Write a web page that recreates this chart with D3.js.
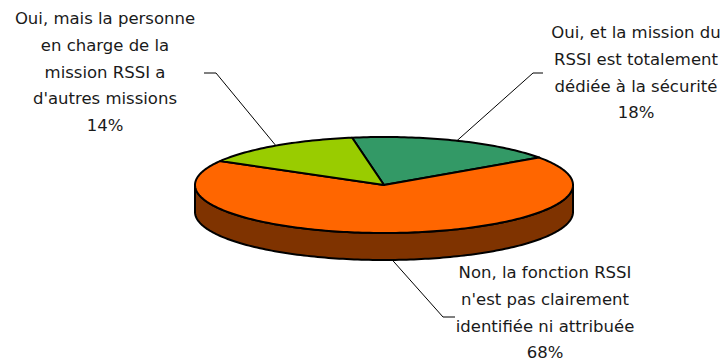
<!DOCTYPE html>
<html>
<head>
<meta charset="utf-8">
<script src="https://cdn.jsdelivr.net/npm/d3@7"></script>
<style>
  html, body { margin: 0; padding: 0; background: #fff; }
  svg { display: block; }
</style>
</head>
<body>
<script>
// data
var categories = [
  "Oui, et la mission du RSSI est totalement dédiée à la sécurité",
  "Non, la fonction RSSI n'est pas clairement identifiée ni attribuée",
  "Oui, mais la personne en charge de la mission RSSI a d'autres missions"
];
var values = [18, 68, 14];
var labelLines = [
  ["Oui, et la mission du", "RSSI est totalement", "dédiée à la sécurité", "18%"],
  ["Non, la fonction RSSI", "n'est pas clairement", "identifiée ni attribuée", "68%"],
  ["Oui, mais la personne", "en charge de la", "mission RSSI a", "d'autres missions", "14%"]
];
var topColors = ["#339966", "#FF6600", "#99CC00"];
var sideColors = ["#1f5c3d", "#7F3300", "#5c7a00"];

(function(){
  var width = 728, height = 363;
  var cx = 384, cy = 185, rx = 189, ry = 48, depth = 27;

  var svg = d3.select("body").append("svg")
      .attr("width", width)
      .attr("height", height);

  var pie = d3.pie().sort(null)
      .startAngle(-9.7 * Math.PI / 180)
      .endAngle(-9.7 * Math.PI / 180 + 2 * Math.PI);
  var arcs = pie(values);

  var topColor = d3.scaleOrdinal().domain(categories).range(topColors);
  var sideColor = d3.scaleOrdinal().domain(categories).range(sideColors);

  function px(a){ return cx + rx * Math.sin(a); }
  function py(a, dz){ return cy - ry * Math.cos(a) + (dz || 0); }

  function rim(p, a0, a1, dz){
    var n = Math.max(2, Math.ceil(Math.abs(a1 - a0) / 0.02));
    for (var i = 0; i <= n; i++){
      var a = a0 + (a1 - a0) * i / n;
      p.lineTo(px(a), py(a, dz));
    }
  }

  // side walls (front half: angles PI/2 .. 3PI/2, modulo 2PI)
  arcs.forEach(function(d, i){
    var ranges = [];
    [0, 2 * Math.PI, -2 * Math.PI].forEach(function(off){
      var a0 = Math.max(d.startAngle, Math.PI / 2 + off);
      var a1 = Math.min(d.endAngle, 3 * Math.PI / 2 + off);
      if (a1 > a0) ranges.push([a0, a1]);
    });
    ranges.forEach(function(r){
      var p = d3.path();
      p.moveTo(px(r[0]), py(r[0]));
      rim(p, r[0], r[1], 0);
      p.lineTo(px(r[1]), py(r[1], depth));
      rim(p, r[1], r[0], depth);
      p.closePath();
      svg.append("path")
          .attr("d", p.toString())
          .attr("fill", sideColor(categories[i]))
          .attr("stroke", "#000")
          .attr("stroke-width", 2)
          .attr("stroke-linejoin", "round");
    });
  });

  // top faces
  arcs.forEach(function(d, i){
    var p = d3.path();
    p.moveTo(cx, cy);
    p.lineTo(px(d.startAngle), py(d.startAngle));
    rim(p, d.startAngle, d.endAngle, 0);
    p.closePath();
    svg.append("path")
        .attr("d", p.toString())
        .attr("fill", topColor(categories[i]))
        .attr("stroke", "#000")
        .attr("stroke-width", 2)
        .attr("stroke-linejoin", "round");
  });

  // labels and leader lines
  var labelPos = [
    {x: 636, y: 38, elbow: [533, 73], end: [543, 73]},
    {x: 545, y: 278, elbow: [443, 317], end: [455, 317]},
    {x: 105, y: 24, elbow: [216, 73], end: [204, 73]}
  ];
  var lineH = 26.8;

  arcs.forEach(function(d, i){
    var mid = (d.startAngle + d.endAngle) / 2;
    var m = ((mid % (2 * Math.PI)) + 2 * Math.PI) % (2 * Math.PI);
    var front = m > Math.PI / 2 && m < 3 * Math.PI / 2;
    var sx = px(mid), sy = py(mid, front ? depth : 0);
    var L = labelPos[i];
    svg.append("polyline")
        .attr("points", [[sx, sy], L.elbow, L.end].map(function(q){ return q.join(","); }).join(" "))
        .attr("fill", "none")
        .attr("stroke", "#000")
        .attr("stroke-width", 1);

    var t = svg.append("text")
        .attr("text-anchor", "middle")
        .attr("font-family", "'DejaVu Sans', sans-serif")
        .attr("font-size", 16.5)
        .attr("fill", "#1a1a1a");
    labelLines[i].forEach(function(s, k){
      t.append("tspan")
          .attr("x", L.x)
          .attr("y", L.y + k * lineH)
          .text(s);
    });
  });
})();
</script>
</body>
</html>
